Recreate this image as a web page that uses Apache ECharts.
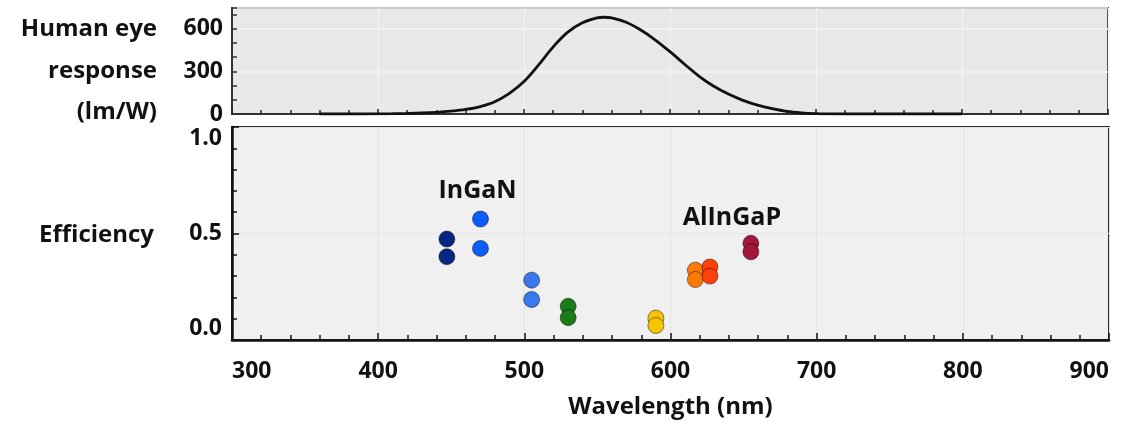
<!DOCTYPE html>
<html>
<head>
<meta charset="utf-8">
<script src="https://cdn.jsdelivr.net/npm/echarts@6/dist/echarts.min.js"></script>
<style>
  html, body { margin: 0; padding: 0; background: #ffffff; }
  #chart { width: 1124px; height: 424px; }
</style>
</head>
<body>
<div id="chart"></div>
<script>
// Photopic eye response (lm/W) versus wavelength (nm)
const eyeWavelength = [360, 370, 380, 390, 400, 410, 420, 430, 440, 450, 460, 470, 480, 490,
  500, 510, 520, 530, 540, 550, 555, 560, 570, 580, 590, 600, 610, 620, 630, 640, 650,
  660, 670, 680, 690, 700, 710, 720, 740, 760, 780, 800];
const eyeResponse = [0, 0, 0, 0, 1, 2, 4, 7, 12, 20, 32, 52, 86, 145,
  228, 345, 472, 575, 641, 676, 680, 676, 645, 590, 520, 438, 350, 265, 195, 140, 96,
  62, 37, 18, 8, 3, 1, 0, 0, 0, 0, 0];

// LED peak wavelengths (nm) with the upper and lower measured efficiency
const ledWavelength = [447, 470, 505, 530, 590, 617, 627, 655];
const ledEffHigh = [0.474, 0.568, 0.281, 0.158, 0.103, 0.328, 0.343, 0.454];
const ledEffLow = [0.391, 0.430, 0.190, 0.105, 0.068, 0.284, 0.300, 0.414];

// Material family annotations
const familyNames = ['InGaN', 'AlInGaP'];
const familyWavelength = [468, 642];
const familyEff = [0.702, 0.572];

// Axis tick values
const eyeTickLabels = [0, 300, 600];
const effTickLabels = [0.0, 0.5, 1.0];
const wavelengthTickLabels = [300, 400, 500, 600, 700, 800, 900];

const ledColors = ['#082683', '#0c5cf7', '#3a78ee', '#1a7d1a', '#f6c400', '#ff7a05', '#ff400a', '#a3163d'];

const FONT = '"Open Sans", "Noto Sans", sans-serif';
const TXT = '#111111';

const chart = echarts.init(document.getElementById('chart'), null, { renderer: 'canvas' });

const ledSeries = ledWavelength.map((w, i) => ({
  type: 'scatter',
  xAxisIndex: 1,
  yAxisIndex: 2,
  symbolSize: 16,
  itemStyle: { color: ledColors[i], borderColor: 'rgba(0,0,0,0.45)', borderWidth: 1, opacity: 1 },
  data: [[w, ledEffHigh[i]], [w, ledEffLow[i]]],
  z: 3
}));

const tickLabelStyle = { color: TXT, fontFamily: FONT, fontSize: 23, fontWeight: 700 };
const sideFont = '700 24px ' + FONT;

const option = {
  animation: false,
  backgroundColor: '#ffffff',
  grid: [
    { left: 232, top: 8, width: 876, height: 106, show: true,
      backgroundColor: '#e8e8e8', borderColor: '#505050', borderWidth: 2 },
    { left: 232, top: 127, width: 877, height: 213, show: true,
      backgroundColor: '#f0f0f0', borderColor: '#2a2a2a', borderWidth: 2 }
  ],
  xAxis: [
    { type: 'value', gridIndex: 0, min: 300, max: 900, interval: 100,
      axisLine: { show: true, lineStyle: { color: '#333', width: 2 } },
      axisTick: { show: true, inside: true, length: 5, lineStyle: { color: '#222', width: 1.5 } },
      minorTick: { show: true, splitNumber: 5, length: 4, lineStyle: { color: '#222', width: 1.5 } },
      axisLabel: { show: false },
      splitLine: { show: true, lineStyle: { color: '#f3f3f3', width: 1 } } },
    { type: 'value', gridIndex: 1, min: 300, max: 900, interval: 100,
      name: 'Wavelength (nm)', nameLocation: 'middle', nameGap: 55,
      nameTextStyle: { color: TXT, fontFamily: FONT, fontSize: 24, fontWeight: 700 },
      axisLine: { show: true, lineStyle: { color: '#111', width: 2.5 } },
      axisTick: { show: true, inside: true, length: 7, lineStyle: { color: '#111', width: 1.5 } },
      minorTick: { show: true, splitNumber: 5, length: 5, lineStyle: { color: '#111', width: 1.5 } },
      axisLabel: Object.assign({ margin: 20, alignMinLabel: 'left', alignMaxLabel: 'right',
        formatter: v => wavelengthTickLabels.includes(v) ? String(v) : '' }, tickLabelStyle),
      splitLine: { show: true, lineStyle: { color: '#e4e4e4', width: 1 } } }
  ],
  yAxis: [
    // eye response: tick marks every 100 lm/W
    { type: 'value', gridIndex: 0, position: 'left', min: 0, max: 745, interval: 100,
      axisLine: { show: true, lineStyle: { color: '#333', width: 2 } },
      axisTick: { show: true, inside: true, length: 5, lineStyle: { color: '#333', width: 1.5 } },
      axisLabel: { show: false },
      splitLine: { show: false } },
    // eye response: labels and grid every 300 lm/W
    { type: 'value', gridIndex: 0, position: 'left', min: 0, max: 745, interval: 300,
      axisLine: { show: false }, axisTick: { show: false },
      axisLabel: Object.assign({ margin: 9,
        formatter: v => eyeTickLabels.includes(v) ? String(v) : '' }, tickLabelStyle),
      splitLine: { show: true, lineStyle: { color: '#f3f3f3', width: 1.5 } } },
    // efficiency
    { type: 'value', gridIndex: 1, position: 'left', min: 0, max: 1, interval: 0.5,
      axisLine: { show: true, lineStyle: { color: '#111', width: 2.5 } },
      axisTick: { show: true, inside: true, length: 7, lineStyle: { color: '#111', width: 1.5 } },
      minorTick: { show: true, splitNumber: 5, length: 5, lineStyle: { color: '#111', width: 1.5 } },
      axisLabel: Object.assign({ margin: 10, verticalAlignMinLabel: 'bottom', verticalAlignMaxLabel: 'top',
        formatter: v => effTickLabels.includes(v) ? v.toFixed(1) : '' }, tickLabelStyle),
      splitLine: { show: true, lineStyle: { color: '#e4e4e4', width: 1 } } }
  ],
  graphic: [
    { type: 'text', x: 157, y: 29, style: { text: 'Human eye', align: 'right', verticalAlign: 'middle',
        fill: TXT, font: sideFont } },
    { type: 'text', x: 157, y: 71, style: { text: 'response', align: 'right', verticalAlign: 'middle',
        fill: TXT, font: sideFont } },
    { type: 'text', x: 157, y: 112, style: { text: '(lm/W)', align: 'right', verticalAlign: 'middle',
        fill: TXT, font: sideFont } },
    { type: 'text', x: 154, y: 235, style: { text: 'Efficiency', align: 'right', verticalAlign: 'middle',
        fill: TXT, font: sideFont } }
  ],
  series: [
    { type: 'line', xAxisIndex: 0, yAxisIndex: 0, showSymbol: false, smooth: 0.35,
      lineStyle: { color: '#111', width: 2.8 },
      data: eyeWavelength.map((w, i) => [w, eyeResponse[i]]), z: 3 },
    ...ledSeries,
    { type: 'scatter', xAxisIndex: 1, yAxisIndex: 2, symbolSize: 1, silent: true,
      itemStyle: { opacity: 0 },
      data: familyNames.map((n, i) => ({ name: n, value: [familyWavelength[i], familyEff[i]] })),
      label: { show: true, position: 'inside', formatter: p => p.name, opacity: 1,
        color: TXT, fontFamily: FONT, fontSize: 25, fontWeight: 700 }, z: 4 }
  ]
};

chart.setOption(option);
</script>
</body>
</html>
